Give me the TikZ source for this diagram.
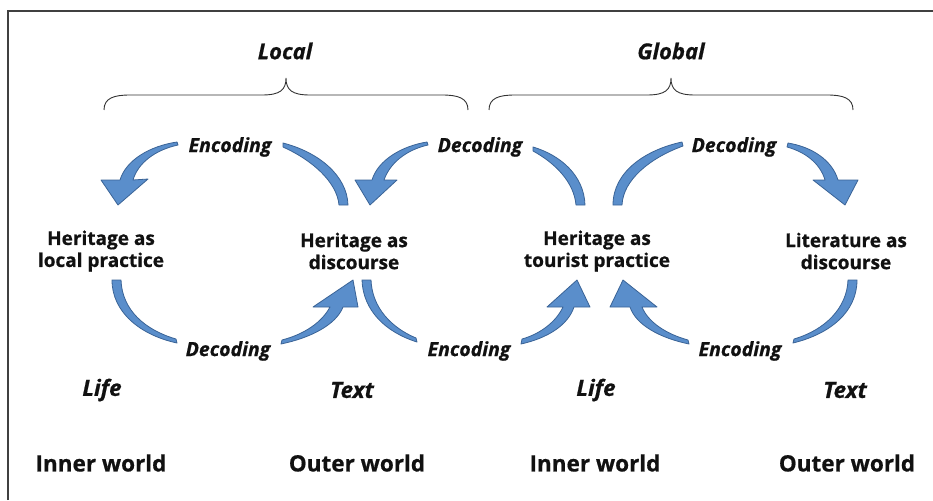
\documentclass[tikz,border=0pt]{standalone}
\usepackage{fontspec}
\setmainfont{Open Sans}[BoldFeatures={FakeBold=0.7},BoldItalicFeatures={FakeBold=0.7}]
\definecolor{arrowfill}{HTML}{5A8ECB}
\definecolor{arrowline}{HTML}{3A6396}
\definecolor{inktext}{HTML}{111111}
\begin{document}
\begin{tikzpicture}[x=1pt,y=-1pt,
  barrow/.style={fill=arrowfill,draw=arrowline,line width=0.8pt,line join=round},
  brace/.style={draw=black!80,line width=0.9pt},
  lbl/.style={font=\bfseries\fontsize{19}{22}\selectfont,align=center,text=inktext,inner sep=0pt},
  code/.style={font=\bfseries\itshape\fontsize{19.5}{22}\selectfont,text=inktext,inner sep=0pt},
  lifetext/.style={font=\bfseries\itshape\fontsize{22.5}{26}\selectfont,text=inktext,inner sep=0pt},
  world/.style={font=\bfseries\fontsize{22.5}{26}\selectfont,text=inktext,inner sep=0pt},
  scopetext/.style={font=\bfseries\itshape\fontsize{22}{26}\selectfont,text=inktext,inner sep=0pt}]
\useasboundingbox (0,0) rectangle (933,500);
% frame
\draw[draw=black!75,line width=1.6pt] (8,500) -- (8,11) -- (933,11);
% scope labels
\node[scopetext] (local) at (285,51) {Local};
\node[scopetext] (global) at (671,51) {Global};
% braces
\draw[brace] (104,110) .. controls (104,98) and (114,95) .. (130,95) -- (262,95)
  .. controls (280,95) and (286,90) .. (286,78) .. controls (286,90) and (292,95) .. (310,95)
  -- (442,95) .. controls (458,95) and (468,98) .. (468,110);
\draw[brace] (489,110) .. controls (489,98) and (499,95) .. (515,95) -- (647,95)
  .. controls (665,95) and (671,90) .. (671,78) .. controls (671,90) and (677,95) .. (695,95)
  -- (827,95) .. controls (843,95) and (853,98) .. (853,110);
% process labels
\node[lbl] (p1) at (101,251) {Heritage as\\local practice};
\node[lbl] (p2) at (354,251) {Heritage as\\discourse};
\node[lbl] (p3) at (597,251) {Heritage as\\tourist practice};
\node[lbl] (p4) at (846,251) {Literature as\\discourse};
% coding labels
\node[code] (enc1) at (230,147) {Encoding};
\node[code] (dec1) at (480,147) {Decoding};
\node[code] (dec2) at (734,147) {Decoding};
\node[code] (dec3) at (228,351) {Decoding};
\node[code] (enc2) at (469,351) {Encoding};
\node[code] (enc3) at (740,351) {Encoding};
% life / text
\node[lifetext] (life1) at (102,390) {Life};
\node[lifetext] (text1) at (352,390) {Text};
\node[lifetext] (life2) at (596,390) {Life};
\node[lifetext] (text2) at (845,390) {Text};
% worlds
\node[world] (w1) at (101,463) {Inner world};
\node[world] (w2) at (357,463) {Outer world};
\node[world] (w3) at (595,463) {Inner world};
\node[world] (w4) at (847,463) {Outer world};
% top row arrows
\path[barrow] (177,142) .. controls (150,146) and (126,160) .. (120,180) -- (101,180) -- (118,205)
  -- (148,179) -- (133,180) .. controls (138,163) and (155,150) .. (178,145) -- cycle;
\path[barrow] (283,143) .. controls (318,152) and (347,175) .. (348,205) -- (339,205)
  .. controls (337,182) and (312,160) .. (283,147) -- cycle;
\path[barrow] (427,142) .. controls (402,146) and (378,160) .. (372,180) -- (355,180) -- (370,205)
  -- (397,180) -- (384,180) .. controls (390,163) and (406,150) .. (428,145) -- cycle;
\path[barrow] (533,147) .. controls (560,155) and (584,175) .. (585,205) -- (576,205)
  .. controls (574,182) and (555,163) .. (533,151) -- cycle;
\path[barrow] (682,142) .. controls (645,150) and (613,172) .. (613,205) -- (622,205)
  .. controls (623,180) and (650,158) .. (683,146) -- cycle;
\path[barrow] (788,143) .. controls (812,147) and (832,160) .. (838,180) -- (858,180) -- (845,205)
  -- (813,180) -- (825,180) .. controls (820,163) and (805,152) .. (787,147) -- cycle;
% bottom row arrows
\path[barrow] (112,280) .. controls (112,312) and (140,335) .. (177,343) -- (176,339)
  .. controls (145,330) and (122,310) .. (121,280) -- cycle;
\path[barrow] (281,344) .. controls (310,338) and (336,325) .. (343,307) -- (358,307) -- (353,280)
  -- (313,307) -- (330,307) .. controls (322,322) and (305,334) .. (282,340) -- cycle;
\path[barrow] (362,280) .. controls (363,310) and (385,332) .. (417,342) -- (416,338)
  .. controls (392,328) and (372,308) .. (371,280) -- cycle;
\path[barrow] (521,344) .. controls (548,338) and (568,325) .. (574,307) -- (590,307) -- (577,280)
  -- (547,307) -- (563,307) .. controls (556,322) and (540,334) .. (522,339) -- cycle;
\path[barrow] (689,344) .. controls (660,338) and (636,325) .. (630,307) -- (610,307) -- (623,280)
  -- (657,307) -- (642,307) .. controls (648,322) and (666,334) .. (688,340) -- cycle;
\path[barrow] (857,280) .. controls (857,312) and (830,334) .. (793,343) -- (794,339)
  .. controls (825,330) and (847,308) .. (848,280) -- cycle;
\end{tikzpicture}
\end{document}
